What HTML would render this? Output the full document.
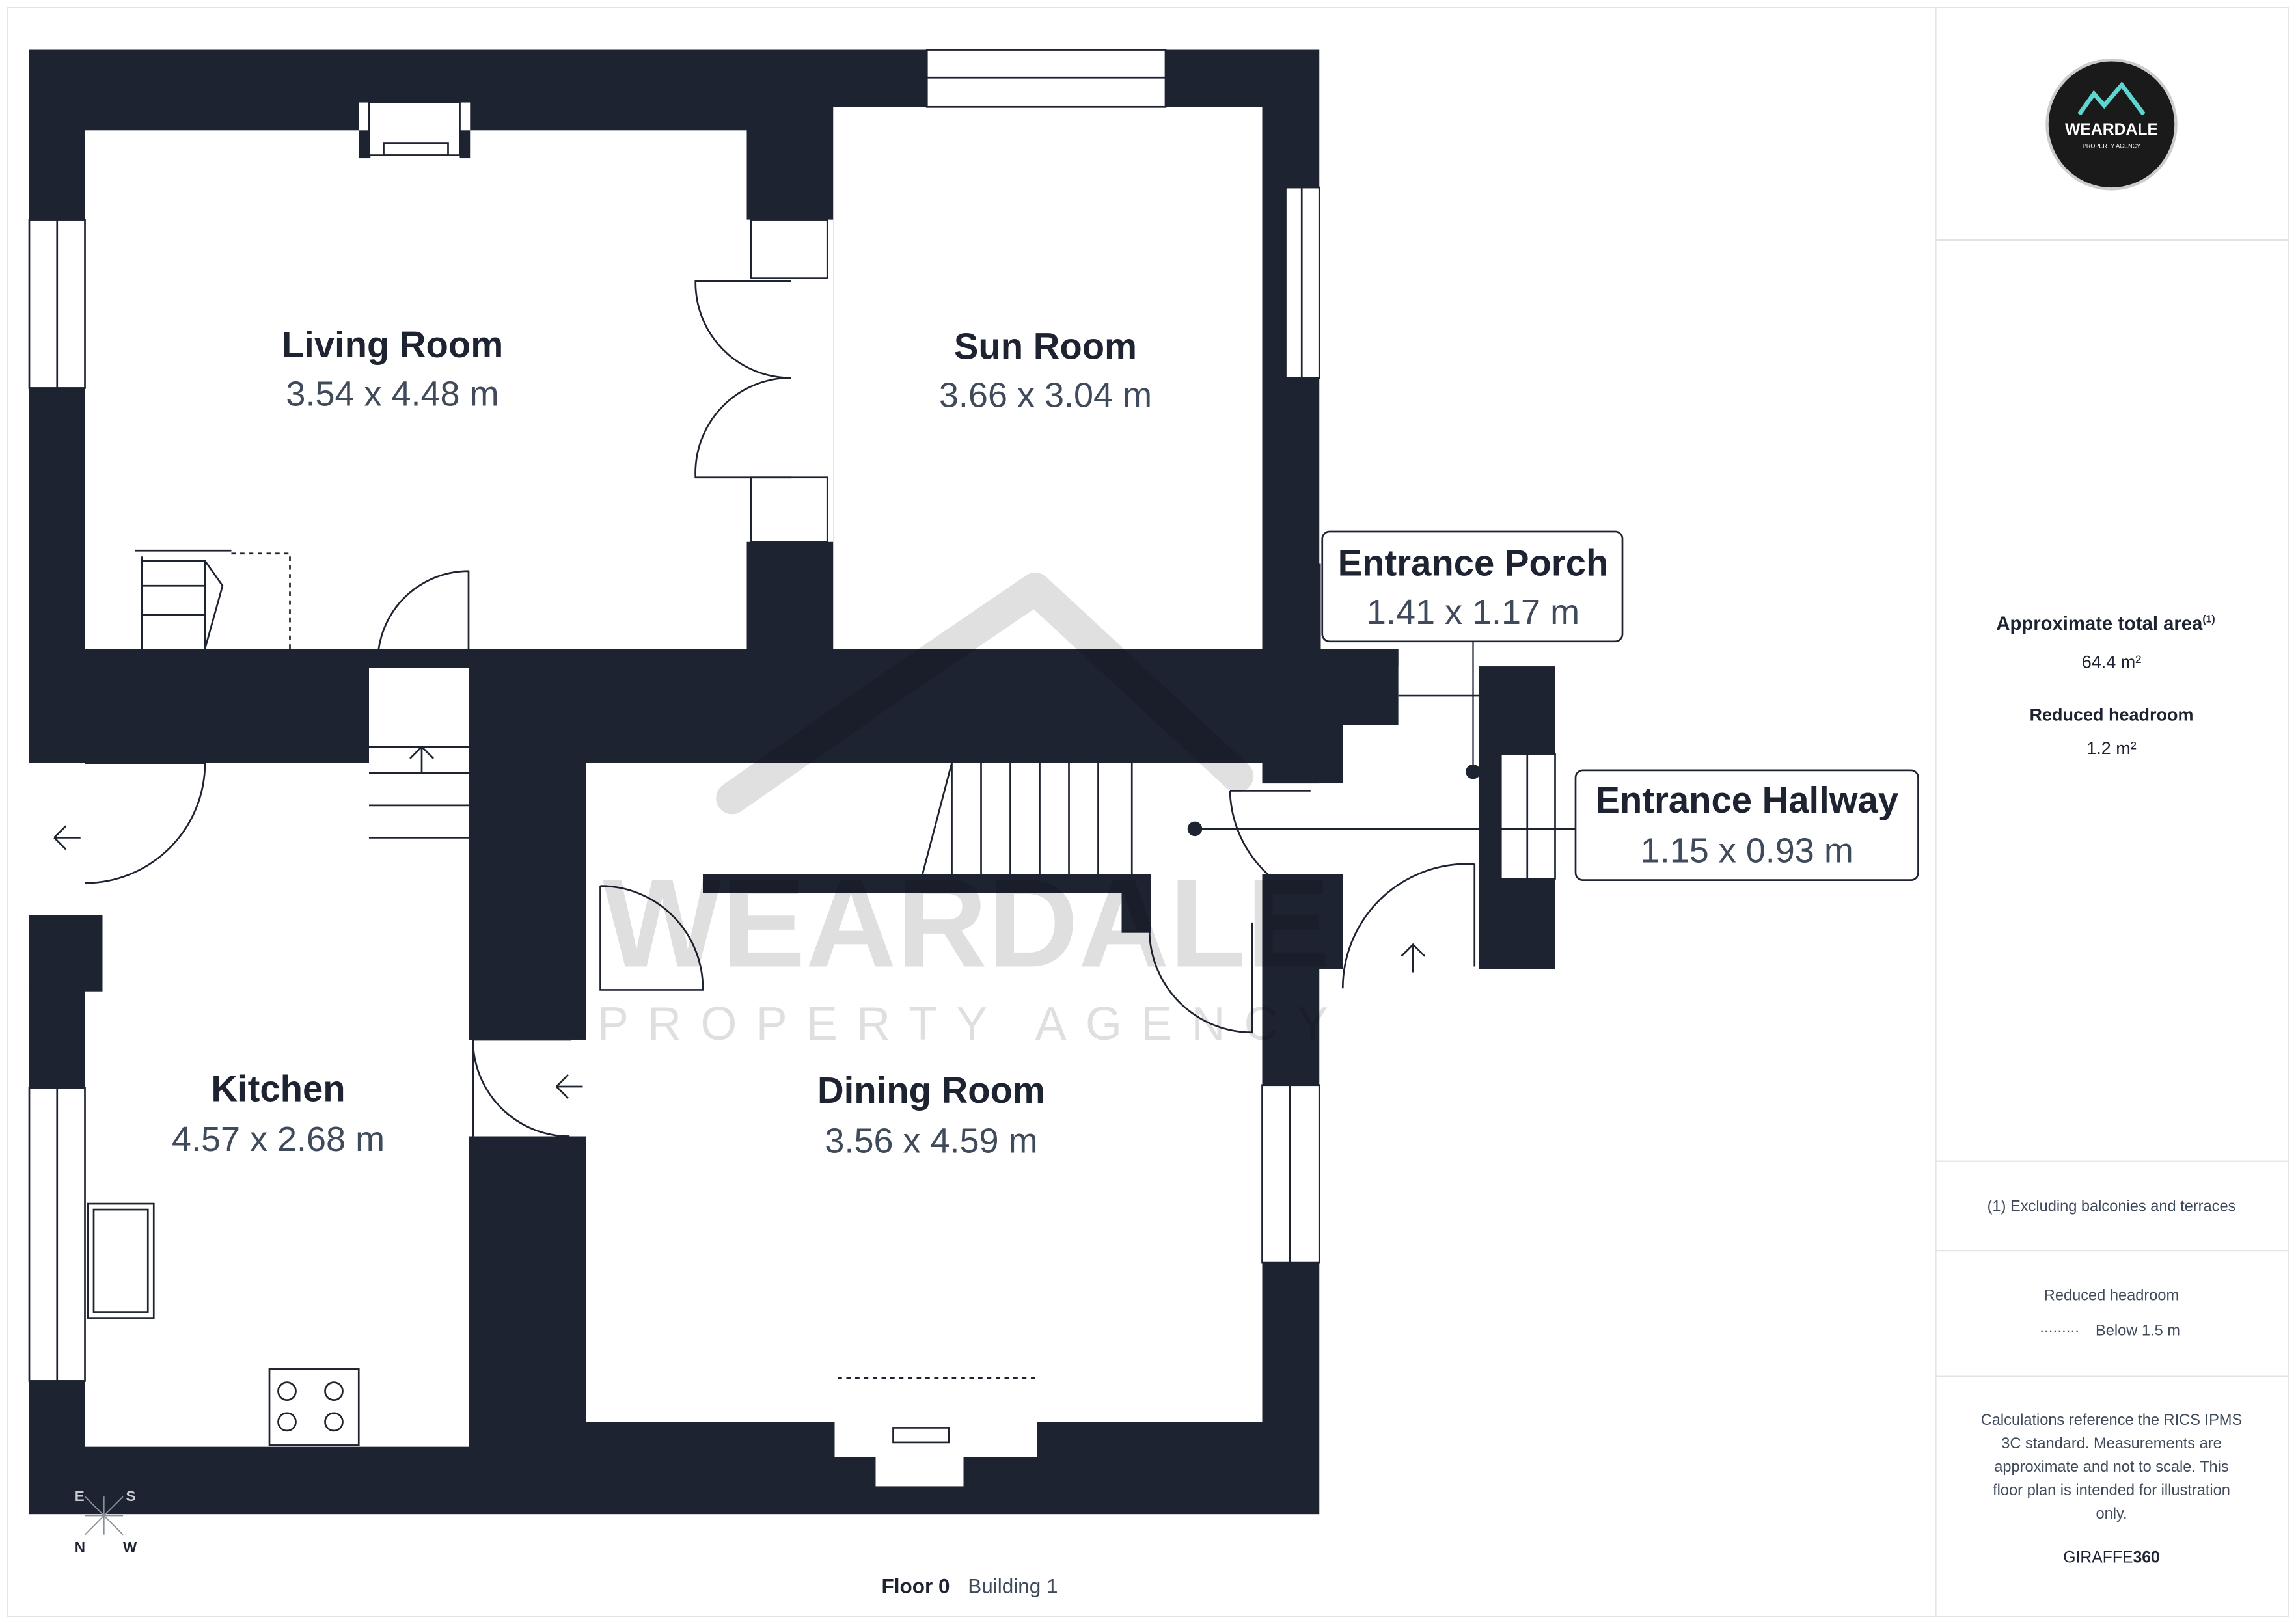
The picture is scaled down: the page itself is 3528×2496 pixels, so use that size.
<!DOCTYPE html>
<html><head><meta charset="utf-8"><style>
html,body{margin:0;padding:0;background:#fff}
svg{display:block}
text{font-family:"Liberation Sans",sans-serif}
</style></head><body>
<svg width="3528" height="2496" viewBox="0 0 1568 1109" preserveAspectRatio="none" xmlns="http://www.w3.org/2000/svg">
<rect x="0" y="0" width="1568" height="1109" fill="#fff"/>
<rect x="5" y="5" width="1558" height="1099" fill="none" stroke="#e3e3e3" stroke-width="1"/>
<line x1="1322" y1="5" x2="1322" y2="1104" stroke="#e3e3e3"/>
<line x1="1322" y1="164" x2="1563" y2="164" stroke="#e3e3e3"/>
<line x1="1322" y1="793" x2="1563" y2="793" stroke="#e3e3e3"/>
<line x1="1322" y1="854" x2="1563" y2="854" stroke="#e3e3e3"/>
<line x1="1322" y1="940" x2="1563" y2="940" stroke="#e3e3e3"/>

<g fill="#1d2330">
<rect x="20" y="34" width="881" height="1000"/>
<rect x="862" y="385" width="40" height="60"/>
<rect x="862" y="443" width="93" height="52"/>
<rect x="862" y="495" width="55" height="40"/>
<rect x="862" y="597" width="55" height="65"/>
<rect x="1010" y="455" width="52" height="207"/>
</g>
<g fill="#fff">
<rect x="58" y="89" width="452" height="354"/>
<rect x="569" y="73" width="293" height="370"/>
<rect x="510" y="150" width="59" height="220"/>
<rect x="58" y="521" width="262" height="467"/>
<rect x="252" y="456" width="68" height="116"/>
<rect x="20" y="521" width="38" height="104"/>
<rect x="320" y="710" width="80" height="66"/>
<rect x="400" y="521" width="462" height="450"/>
<rect x="862" y="535" width="148" height="62"/>
<rect x="917" y="495" width="93" height="167"/>
<rect x="955" y="455" width="55" height="40"/>
<rect x="570" y="948" width="138" height="47"/>
<rect x="598" y="970" width="60" height="45"/>
<rect x="245" y="70" width="76" height="38"/>
</g>
<g fill="#1d2330">
<rect x="480" y="597" width="298" height="13"/>
<rect x="766" y="597" width="20" height="40"/>
<rect x="20" y="625" width="50" height="52"/>
<rect x="245" y="89" width="8" height="19"/>
<rect x="314" y="89" width="7" height="19"/>
</g>
<!-- windows -->
<g fill="#fff" stroke="#1d2330" stroke-width="1.2">
<rect x="633" y="34" width="163" height="39"/>
<line x1="633" y1="53" x2="796" y2="53"/>
<rect x="20" y="150" width="38" height="115"/>
<line x1="39" y1="150" x2="39" y2="265"/>
<rect x="20" y="743" width="38" height="200"/>
<line x1="39" y1="743" x2="39" y2="943"/>
<rect x="878" y="128" width="23" height="130"/>
<line x1="889" y1="128" x2="889" y2="258"/>
<rect x="862" y="741" width="39" height="121"/>
<line x1="881" y1="741" x2="881" y2="862"/>
<rect x="1025" y="515" width="37" height="85"/>
<line x1="1043" y1="515" x2="1043" y2="600"/>
<rect x="513" y="150" width="52" height="40"/>
<rect x="513" y="326" width="52" height="44"/>
<rect x="252" y="70" width="62" height="36"/>
<rect x="60" y="822" width="45" height="78"/>
<rect x="184" y="935" width="61" height="52"/>
</g>
<g fill="none" stroke="#1d2330" stroke-width="1.2">
<line x1="890" y1="258" x2="890" y2="322"/>
<rect x="64" y="826" width="37" height="70"/>
<path d="M540 192 H475 A65 65 0 0 0 540 258"/>
<path d="M540 326 H475 A65 65 0 0 1 540 258"/>
<path d="M320 390 V452 M320 390 A62 62 0 0 0 258 452"/>
<path d="M58 521 H140 A82 82 0 0 1 58 603"/>
<path d="M323 776 V710 H390 M323 710 A66 66 0 0 0 389 776"/>
<path d="M410 605 V676 H480 A70 70 0 0 0 410 605"/>
<path d="M855 630 V705 A70 70 0 0 1 785 635"/>
<path d="M840 540 H895 M840 540 A80 80 0 0 0 915 618"/>
<path d="M1007 590 V660 M1007 590 H1000 A85 85 0 0 0 917 675"/>
<path d="M92 376 H158 M97 380 V443 M97 383 H140 V443 M97 400 H140 M97 420 H140 M140 383 L152 400 L140 443" />
<path d="M158 378 H198 V443" stroke-dasharray="3 3"/>
<path d="M252 510 H320 M252 528 H320 M252 550 H320 M252 572 H320 M288 510 V528 M280 518 L288 510 L296 518"/>
<path d="M650 521 V597 M670 521 V597 M690 521 V597 M710 521 V597 M730 521 V597 M750 521 V597 M773 521 V597 M650 521 L630 597"/>
<path d="M572 941 H708" stroke-dasharray="3 3"/>
<rect x="610" y="975" width="38" height="10"/>
<rect x="262" y="98" width="44" height="8"/>
<path d="M955 475 H1010"/>
<path d="M37 572 L45 564 M37 572 L45 580 M37 572 H55"/>
<path d="M380 742 L388 734 M380 742 L388 750 M380 742 H398"/>
<path d="M965 664 V645 M957 653 L965 645 L973 653"/>
<circle cx="196" cy="950" r="6"/><circle cx="228" cy="950" r="6"/><circle cx="196" cy="971" r="6"/><circle cx="228" cy="971" r="6"/>
</g>
<!-- watermark -->
<g opacity="0.12">
<path d="M500 545 L600 475 L707 402 L845 530" fill="none" stroke="#000" stroke-width="22" stroke-linejoin="round" stroke-linecap="round"/>
<text x="660" y="660" font-size="86" text-anchor="middle" font-weight="bold" fill="#000">WEARDALE</text>
<text x="664" y="710" font-size="32" text-anchor="middle" letter-spacing="13" fill="#000">PROPERTY AGENCY</text>
</g>
<g text-anchor="middle" fill="#1d2330">
<text x="268" y="244" font-size="25" font-weight="bold">Living Room</text>
<text x="268" y="277" font-size="24" fill="#3f4a5a">3.54 x 4.48 m</text>
<text x="714" y="245" font-size="25" font-weight="bold">Sun Room</text>
<text x="714" y="278" font-size="24" fill="#3f4a5a">3.66 x 3.04 m</text>
<text x="190" y="752" font-size="25" font-weight="bold">Kitchen</text>
<text x="190" y="786" font-size="24" fill="#3f4a5a">4.57 x 2.68 m</text>
<text x="636" y="753" font-size="25" font-weight="bold">Dining Room</text>
<text x="636" y="787" font-size="24" fill="#3f4a5a">3.56 x 4.59 m</text>
</g>
<rect x="903" y="363" width="205" height="75" rx="5" fill="#fff" stroke="#1d2330" stroke-width="1.2"/>
<line x1="1006" y1="438" x2="1006" y2="527" stroke="#1d2330"/>
<circle cx="1006" cy="527" r="5" fill="#1d2330"/>
<rect x="1076" y="526" width="234" height="75" rx="5" fill="#fff" stroke="#1d2330" stroke-width="1.2"/>
<line x1="816" y1="566" x2="1076" y2="566" stroke="#1d2330"/>
<circle cx="816" cy="566" r="5" fill="#1d2330"/>
<g text-anchor="middle">
<text x="1006" y="393" font-size="25" font-weight="bold" fill="#1d2330">Entrance Porch</text>
<text x="1006" y="426" font-size="24" fill="#3f4a5a">1.41 x 1.17 m</text>
<text x="1193" y="555" font-size="25" font-weight="bold" fill="#1d2330">Entrance Hallway</text>
<text x="1193" y="589" font-size="24" fill="#3f4a5a">1.15 x 0.93 m</text>
</g>
<!-- compass -->
<g stroke="#8a909a" stroke-width="0.8"><line x1="58" y1="1022" x2="84" y2="1048"/><line x1="84" y1="1022" x2="58" y2="1048"/><line x1="71" y1="1022" x2="71" y2="1048"/><line x1="58" y1="1035" x2="84" y2="1035"/></g>
<g font-size="10" font-weight="bold"><text x="51" y="1025" fill="#c8ccd2">E</text><text x="86" y="1025" fill="#c8ccd2">S</text><text x="51" y="1060" fill="#1d2330">N</text><text x="84" y="1060" fill="#1d2330">W</text></g>
<text x="602" y="1088" font-size="14" font-weight="bold" fill="#1d2330">Floor 0</text>
<text x="661" y="1088" font-size="14" fill="#3f4a5a">Building 1</text>
<circle cx="1442" cy="85" r="44" fill="#1a1a1a" stroke="#ccc" stroke-width="2"/>
<path d="M1420 78 L1430 64 L1437 72 L1449 58 L1464 78" fill="none" stroke="#5ed6cf" stroke-width="3"/>
<text x="1442" y="92" font-size="11" fill="#fff" text-anchor="middle" font-weight="bold">WEARDALE</text>
<text x="1442" y="101" font-size="4" fill="#fff" text-anchor="middle">PROPERTY AGENCY</text>
<g text-anchor="middle" fill="#1d2330">
<text x="1438" y="430" font-size="13" font-weight="bold">Approximate total area<tspan font-size="7" dy="-5">(1)</tspan></text>
<text x="1442" y="456" font-size="12">64.4 m²</text>
<text x="1442" y="492" font-size="12" font-weight="bold">Reduced headroom</text>
<text x="1442" y="515" font-size="12">1.2 m²</text>
<text x="1442" y="827" font-size="10.5" fill="#3f4a5a">(1) Excluding balconies and terraces</text>
<text x="1442" y="888" font-size="10.5" fill="#3f4a5a">Reduced headroom</text>
<text x="1460" y="912" font-size="10.5" fill="#3f4a5a">Below 1.5 m</text>
<text x="1442" y="973" font-size="10.5" fill="#3f4a5a">Calculations reference the RICS IPMS</text>
<text x="1442" y="989" font-size="10.5" fill="#3f4a5a">3C standard. Measurements are</text>
<text x="1442" y="1005" font-size="10.5" fill="#3f4a5a">approximate and not to scale. This</text>
<text x="1442" y="1021" font-size="10.5" fill="#3f4a5a">floor plan is intended for illustration</text>
<text x="1442" y="1037" font-size="10.5" fill="#3f4a5a">only.</text>
<text x="1442" y="1067" font-size="11" fill="#1d2330">GIRAFFE<tspan font-weight="bold">360</tspan></text>
</g>
<line x1="1394" y1="909" x2="1420" y2="909" stroke="#3f4a5a" stroke-dasharray="1 2"/>
</svg>
</body></html>
